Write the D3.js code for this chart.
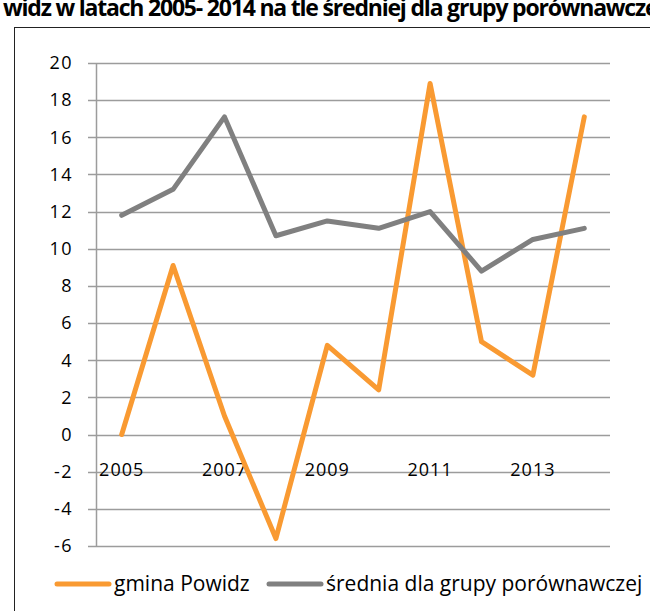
<!DOCTYPE html>
<meta charset="utf-8">
<head>
  <meta charset="utf-8">
  <title>Powidz</title>
  <style>
    body { margin: 0; background: #fff; }
    svg { display: block; }
    text { font-family: "Open Sans", sans-serif; fill: #000; }
  </style>
</head>
<body>
<script src="https://cdn.jsdelivr.net/npm/d3@7"></script>
<script>

// data
var years = [2005, 2006, 2007, 2008, 2009, 2010, 2011, 2012, 2013, 2014];
var powidz = [0, 9.1, 1.0, -5.6, 4.8, 2.4, 18.9, 5.0, 3.2, 17.1];
var srednia = [11.8, 13.2, 17.1, 10.7, 11.5, 11.1, 12.0, 8.8, 10.5, 11.1];
var yTicks = [20, 18, 16, 14, 12, 10, 8, 6, 4, 2, 0, -2, -4, -6];
var xLabels = [2005, 2007, 2009, 2011, 2013];
var seriesNames = ["gmina Powidz", "średnia dla grupy porównawczej"];
var colors = ["#f99a32", "#808080"];

var W = 650, H = 611;

var svg = d3.select("body").append("svg")
    .attr("width", W)
    .attr("height", H);

// title (cut off at the top and right in the original)
svg.append("text")
    .attr("x", 3)
    .attr("y", 16)
    .style("font-size", "23px")
    .style("font-weight", "bold")
    .style("letter-spacing", "-1.2px")
    .text("widz w latach 2005- 2014 na tle średniej dla grupy porównawczej");

// chart frame
svg.append("rect")
    .attr("x", 14.5)
    .attr("y", 27.5)
    .attr("width", 700)
    .attr("height", 700)
    .attr("fill", "none")
    .attr("stroke", "#222")
    .attr("stroke-width", 1);

// scales
var x = d3.scaleBand()
    .domain(years)
    .range([96, 610]);

var y = d3.scaleLinear()
    .domain([-6, 20])
    .range([546, 63]);

function cx(d) { return x(d) + x.bandwidth() / 2; }

// gridlines
svg.append("g")
    .selectAll("line")
    .data(yTicks)
    .enter().append("line")
    .attr("x1", 88)
    .attr("x2", 610)
    .attr("y1", function(d) { return Math.round(y(d)) + 0.5; })
    .attr("y2", function(d) { return Math.round(y(d)) + 0.5; })
    .attr("stroke", "#9c9c9c")
    .attr("stroke-width", 1.5);

// y axis line
svg.append("line")
    .attr("x1", 96.5).attr("x2", 96.5)
    .attr("y1", y(20)).attr("y2", y(-6))
    .attr("stroke", "#9c9c9c")
    .attr("stroke-width", 1.5);

// y tick labels
svg.append("g")
    .selectAll("text")
    .data(yTicks)
    .enter().append("text")
    .attr("x", 73)
    .attr("y", function(d) { return y(d); })
    .attr("dy", "0.35em")
    .attr("text-anchor", "end")
    .style("font-size", "18px")
    .style("letter-spacing", "1.5px")
    .text(function(d) { return d; });

// x labels (sit below the zero line)
svg.append("g")
    .selectAll("text")
    .data(xLabels)
    .enter().append("text")
    .attr("x", function(d) { return cx(d); })
    .attr("y", y(0) + 41)
    .attr("text-anchor", "middle")
    .style("font-size", "18px")
    .style("letter-spacing", "1px")
    .text(function(d) { return d; });

// lines
var line = d3.line()
    .x(function(d, i) { return cx(years[i]); })
    .y(function(d) { return y(d); });

[powidz, srednia].forEach(function(s, i) {
  svg.append("path")
      .datum(s)
      .attr("d", line)
      .attr("fill", "none")
      .attr("stroke", colors[i])
      .attr("stroke-width", 5)
      .attr("stroke-linejoin", "round")
      .attr("stroke-linecap", "round");
});

// legend
var legendX = [57, 269];
var legend = svg.append("g");
seriesNames.forEach(function(name, i) {
  legend.append("line")
      .attr("x1", legendX[i]).attr("x2", legendX[i] + 52)
      .attr("y1", 584).attr("y2", 584)
      .attr("stroke", colors[i])
      .attr("stroke-width", 5)
      .attr("stroke-linecap", "round");
  legend.append("text")
      .attr("x", legendX[i] + 57)
      .attr("y", 584)
      .attr("dy", "0.35em")
      .style("font-size", "21px")
      .text(name);
});

</script>
</body>
